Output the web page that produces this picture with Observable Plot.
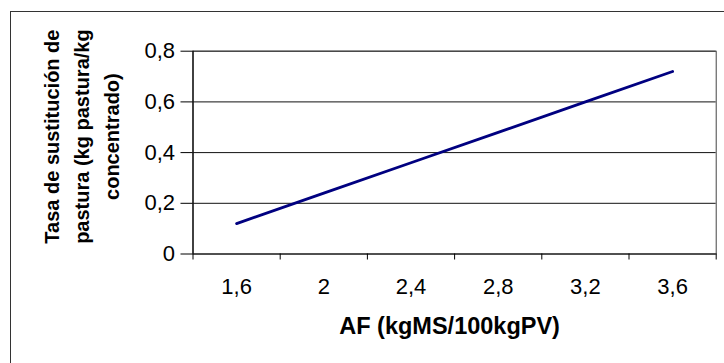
<!DOCTYPE html>
<html>
<head>
<meta charset="utf-8">
<script src="https://cdn.jsdelivr.net/npm/d3@7"></script>
<script src="https://cdn.jsdelivr.net/npm/@observablehq/plot@0.6"></script>
<style>
  html, body { margin: 0; padding: 0; background: #fff; overflow: hidden; }
  #wrap { position: relative; width: 724px; height: 363px; }
  #wrap svg { display: block; position: absolute; left: 0; top: 0; }
  #border { position: absolute; left: 10px; top: 11px; width: 740px; height: 380px; border: 1px solid #333; box-sizing: border-box; pointer-events: none; z-index: 2; }
</style>
</head>
<body>
<div id="wrap"><div id="border"></div></div>
<script>
// Data
const afValues = [1.6, 2.0, 2.4, 2.8, 3.2, 3.6];          // AF (kgMS/100kgPV) categories
const sustitucion = [0.12, 0.24, 0.36, 0.48, 0.60, 0.72]; // tasa de sustitución
const yTicks = [0, 0.2, 0.4, 0.6, 0.8];
const xTitle = "AF (kgMS/100kgPV)";
const yTitle = "Tasa de sustitución de\npastura (kg pastura/kg\nconcentrado)";

const data = afValues.map((x, i) => ({x, y: sustitucion[i]}));
const step = afValues[1] - afValues[0];
const xMin = afValues[0] - step / 2;
const xMax = afValues[afValues.length - 1] + step / 2;
const boundaries = d3.range(afValues.length + 1).map(i => xMin + i * step);
const fmt = d => String(+d.toFixed(2)).replace(".", ",");

const chart = Plot.plot({
  width: 724,
  height: 363,
  marginLeft: 192.5,
  marginRight: 8.3,
  marginTop: 50.7,
  marginBottom: 109.5,
  style: {fontFamily: "Liberation Sans, Arial, sans-serif", background: "transparent"},
  x: {type: "linear", domain: [xMin, xMax]},
  y: {domain: [0, 0.8]},
  marks: [
    Plot.gridY(yTicks.filter(d => d > 0), {stroke: "#111", strokeOpacity: 1, strokeWidth: 1}),
    Plot.frame({stroke: "#444", strokeWidth: 1}),
    Plot.ruleY([0], {stroke: "#000", strokeWidth: 1.2}),
    Plot.ruleX([xMin], {stroke: "#000", strokeWidth: 1.2}),
    Plot.axisY({ticks: yTicks, tickSize: 12, tickPadding: 6, tickFormat: fmt, fontSize: 22, label: null, stroke: "#000"}),
    Plot.axisX({ticks: boundaries, tickSize: 6, tickFormat: () => "", label: null, stroke: "#000"}),
    Plot.axisX({ticks: afValues, tickSize: 0, tickPadding: 24, tickFormat: fmt, fontSize: 22, label: null}),
    Plot.line(data, {x: "x", y: "y", stroke: "#000080", strokeWidth: 2.8}),
    Plot.text([xTitle], {frameAnchor: "bottom", dx: -5, dy: 80, fontSize: 23.5, fontWeight: "bold", fill: "#000"}),
    Plot.text([yTitle], {frameAnchor: "left", dx: -114, dy: -16, rotate: -90, textAnchor: "middle", fontSize: 20, fontWeight: "bold", lineHeight: 1.5, fill: "#000"})
  ]
});
document.getElementById("wrap").prepend(chart);
</script>
</body>
</html>
